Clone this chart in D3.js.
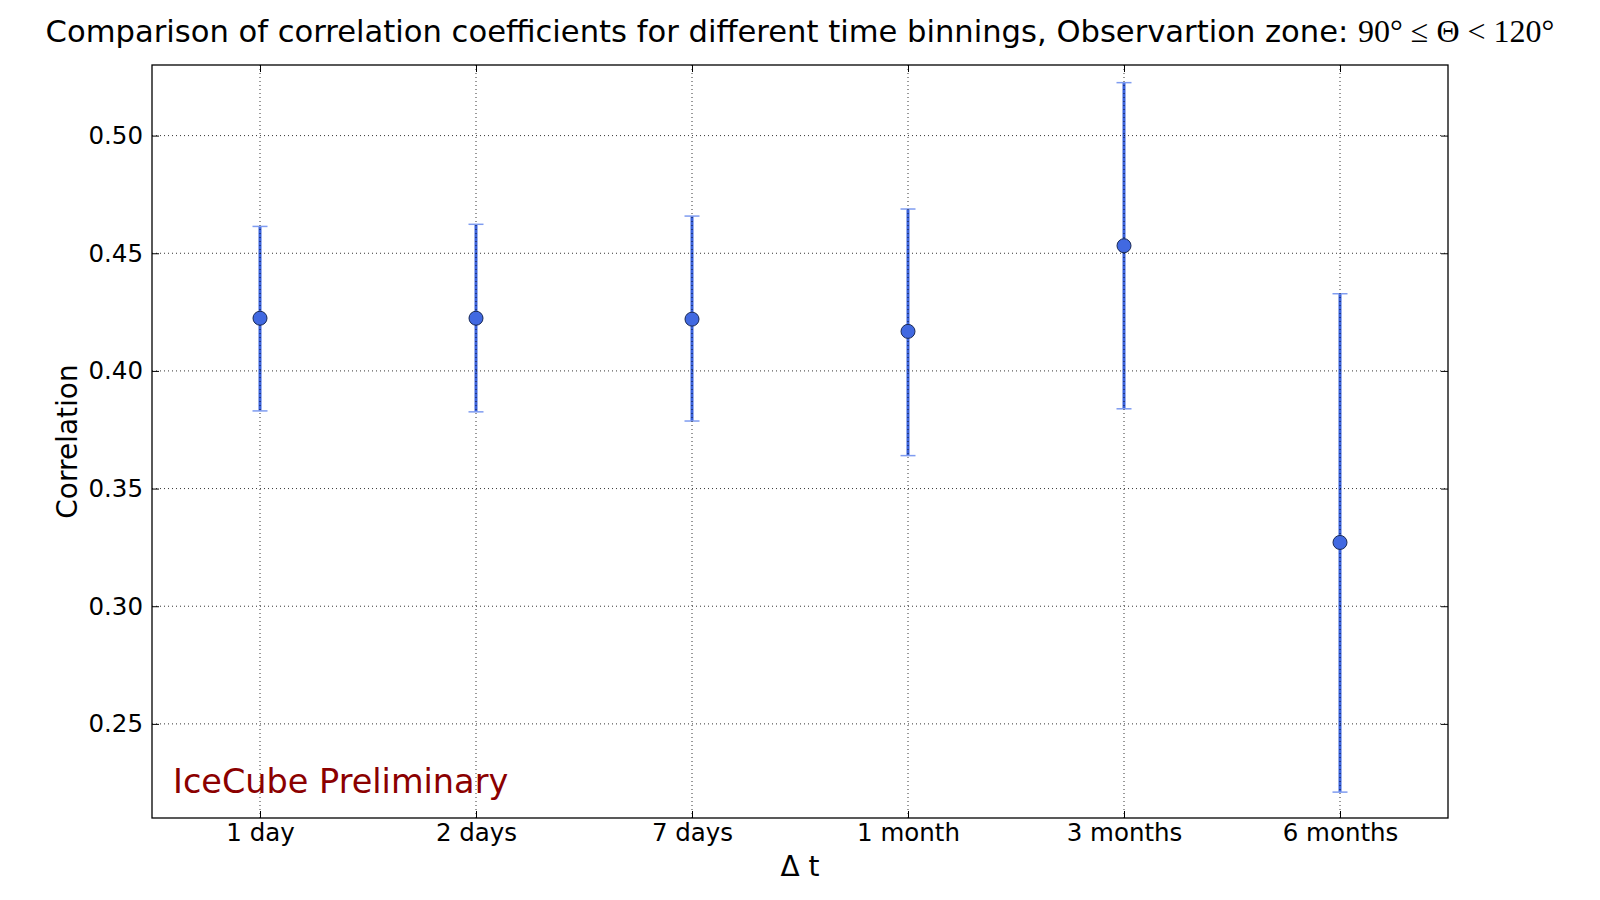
<!DOCTYPE html>
<html>
<head>
<meta charset="utf-8">
<script src="https://cdn.jsdelivr.net/npm/d3@7"></script>
<style>
  body { margin: 0; background: #fff; }
  svg { font-family: "DejaVu Sans", sans-serif; }
</style>
</head>
<body>
<svg id="chart" width="1600" height="900"></svg>
<script>
// data
const categories = ["1 day", "2 days", "7 days", "1 month", "3 months", "6 months"];
const correlation = [0.4224, 0.4224, 0.4220, 0.4168, 0.4532, 0.3271];
const errUpper = [0.4614, 0.4623, 0.4658, 0.4688, 0.5225, 0.4328];
const errLower = [0.3830, 0.3826, 0.3787, 0.3640, 0.3839, 0.2210];
const yTicks = [0.25, 0.30, 0.35, 0.40, 0.45, 0.50];

const margin = {left: 152, right: 152, top: 65, bottom: 82};
const width = 1600 - margin.left - margin.right,
    height = 900 - margin.top - margin.bottom;

const svg = d3.select("#chart");
const g = svg.append("g")
    .attr("transform", "translate(" + margin.left + "," + margin.top + ")");

const x = d3.scaleLinear().domain([-0.5, categories.length - 0.5]).range([0, width]);
const y = d3.scaleLinear().domain([0.21, 0.53]).range([height, 0]);

const idx = d3.range(categories.length);

// error bars (drawn first, grid goes on top like in the original)
const bars = g.append("g");
bars.selectAll("line.err")
    .data(idx)
    .enter()
    .append("line")
    .attr("x1", d => x(d)).attr("x2", d => x(d))
    .attr("y1", d => y(errUpper[d])).attr("y2", d => y(errLower[d]))
    .attr("stroke", "#3a62dc")
    .attr("stroke-width", 3);
bars.selectAll("line.cap")
    .data(idx.flatMap(d => [errUpper[d], errLower[d]].map(v => ({i: d, v: v}))))
    .enter()
    .append("line")
    .attr("x1", d => x(d.i) - 7.5).attr("x2", d => x(d.i) + 7.5)
    .attr("y1", d => y(d.v)).attr("y2", d => y(d.v))
    .attr("stroke", "#7f9cf0")
    .attr("stroke-width", 1.5);

// grid
const grid = g.append("g");
grid.selectAll("line.gy")
    .data(yTicks)
    .enter()
    .append("line")
    .attr("x1", 0).attr("x2", width)
    .attr("y1", d => y(d)).attr("y2", d => y(d))
    .attr("stroke", "#000").attr("stroke-width", 0.8)
    .attr("stroke-dasharray", "1,3");
grid.selectAll("line.gx")
    .data(idx)
    .enter()
    .append("line")
    .attr("x1", d => x(d)).attr("x2", d => x(d))
    .attr("y1", 0).attr("y2", height)
    .attr("stroke", "#000").attr("stroke-width", 0.8)
    .attr("stroke-dasharray", "1,3");

// markers
g.append("g").selectAll("circle")
    .data(idx)
    .enter()
    .append("circle")
    .attr("cx", d => x(d))
    .attr("cy", d => y(correlation[d]))
    .attr("r", 7)
    .attr("fill", "#4169e1")
    .attr("stroke", "#1a2a55")
    .attr("stroke-width", 1);

// axes, ticks pointing inward
const xAxis = d3.axisBottom(x).tickValues(idx).tickFormat(d => categories[d])
    .tickSizeInner(-7).tickSizeOuter(0).tickPadding(6);
g.append("g").attr("class", "axis").attr("transform", "translate(0," + height + ")").call(xAxis);
g.append("g").attr("class", "axis").call(d3.axisTop(x).tickValues(idx).tickFormat("")
    .tickSizeInner(-7).tickSizeOuter(0));

const yAxis = d3.axisLeft(y).tickValues(yTicks).tickFormat(d3.format(".2f"))
    .tickSizeInner(-7).tickSizeOuter(0).tickPadding(9);
g.append("g").attr("class", "axis").call(yAxis);
g.append("g").attr("class", "axis").attr("transform", "translate(" + width + ",0)")
    .call(d3.axisRight(y).tickValues(yTicks).tickFormat("").tickSizeInner(-7).tickSizeOuter(0));

g.selectAll(".axis text").attr("font-size", 24.5).attr("fill", "#000")
    .attr("font-family", "DejaVu Sans, sans-serif");
g.selectAll(".axis .tick line").attr("stroke", "#000").attr("stroke-width", 1);
g.selectAll(".axis path.domain").remove();

// frame
g.append("rect")
    .attr("width", width).attr("height", height)
    .attr("fill", "none").attr("stroke", "#000").attr("stroke-width", 1.3);

// watermark
g.append("text")
    .attr("x", 21).attr("y", y(0.21) - 25)
    .attr("font-size", 33.5)
    .attr("fill", "#8b0000")
    .text("IceCube Preliminary");

// labels
svg.append("text")
    .attr("x", margin.left + width / 2).attr("y", 876)
    .attr("text-anchor", "middle")
    .attr("font-size", 28)
    .text("\u0394 t");

svg.append("text")
    .attr("transform", "translate(77," + (margin.top + height / 2) + ") rotate(-90)")
    .attr("text-anchor", "middle")
    .attr("font-size", 28)
    .text("Correlation");

const title = svg.append("text")
    .attr("x", margin.left + width / 2).attr("y", 42)
    .attr("text-anchor", "middle")
    .attr("font-size", 30.6);
title.append("tspan").text("Comparison of correlation coefficients for different time binnings, Observartion zone: ");
title.append("tspan").attr("font-family", "Liberation Serif, serif").attr("font-size", 32)
    .text("90\u00b0 \u2264 \u0398 < 120\u00b0");
</script>
</body>
</html>
